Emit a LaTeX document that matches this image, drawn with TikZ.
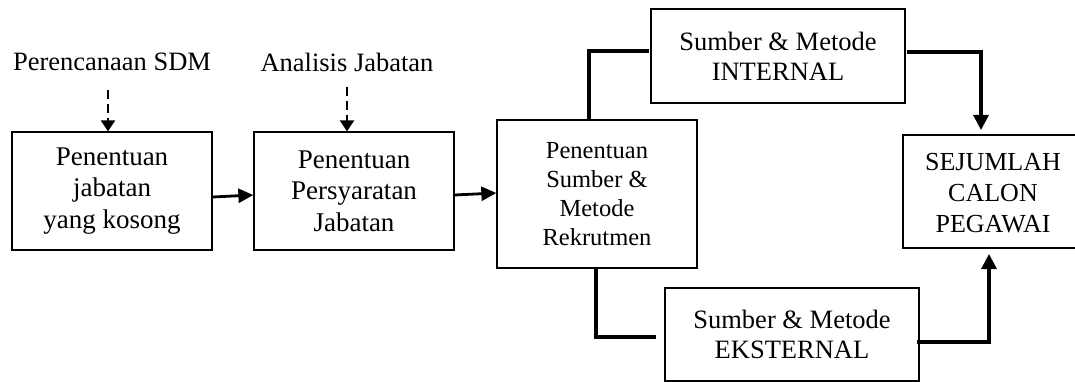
\documentclass[tikz,border=0pt]{standalone}
\usepackage{fontspec}
\setmainfont{Liberation Serif}
\usetikzlibrary{arrows.meta}
\tikzset{
  box/.style={draw, line width=1.3pt, align=center, inner sep=0pt, font=\fontsize{27}{31.7}\selectfont},
  lbl/.style={inner sep=0pt, font=\fontsize{26.5}{31.7}\selectfont},
  conn/.style={line width=3.2pt},
  arr/.style={line width=2.8pt, -{Triangle[length=15pt,width=14pt]}},
  darr/.style={line width=2.3pt, dash pattern=on 9pt off 5pt, -{Triangle[length=11pt,width=14pt]}}
}
\begin{document}
\begin{tikzpicture}[x=1pt,y=-1pt]
\useasboundingbox (0,0) rectangle (1075,382);
\clip (0,0) rectangle (1075,382);
\node[box, minimum width=200pt, minimum height=118pt] (b1) at (112,191) {Penentuan\\jabatan\\yang kosong};
\node[box, minimum width=200pt, minimum height=118pt] (b2) at (354,191) {Penentuan\\Persyaratan\\Jabatan};
\node[box, minimum width=200pt, minimum height=148pt, font=\fontsize{24.5}{29}\selectfont] (b3) at (597,194) {Penentuan\\Sumber \&\\Metode\\Rekrutmen};
\node[box, minimum width=254pt, minimum height=94pt, font=\fontsize{26.5}{30}\selectfont] (int) at (778,56) {Sumber \& Metode\\INTERNAL};
\node[box, minimum width=254pt, minimum height=93pt, font=\fontsize{26.5}{30}\selectfont] (eks) at (792,334.5) {Sumber \& Metode\\EKSTERNAL};
\node[draw, line width=1.3pt, minimum width=220pt, minimum height=113pt, inner sep=0pt] (sej) at (1013,191.5) {};
\node[align=center, inner sep=0pt, font=\fontsize{26}{31}\selectfont] (sejt) at (993,193) {SEJUMLAH\\CALON\\PEGAWAI};
\node[lbl] (p1) at (112,62) {Perencanaan SDM};
\node[lbl] (p2) at (347,62) {Analisis Jabatan};
\coordinate (d1) at (108,90);
\coordinate (d2) at (347,87);
\coordinate (sn) at (981,130);
\coordinate (ss) at (989,254);
\draw[darr] (d1) -- (d1 |- b1.north);
\draw[darr] (d2) -- (d2 |- b2.north);
\draw[arr] ([yshift=-6pt]b1.east) -- ([yshift=-4pt]b2.west);
\draw[arr] ([yshift=-4pt]b2.east) -- ([yshift=1pt]b3.west);
\draw[conn] ([xshift=-8pt]b3.north) |- ([xshift=-1pt,yshift=5pt]int.west);
\draw[conn, -{Triangle[length=15pt,width=15pt]}] ([xshift=1pt,yshift=4pt]int.east) -| (sn);
\draw[conn] ([xshift=-1pt]b3.south) |- ([xshift=-8pt,yshift=-2.5pt]eks.west);
\draw[conn, -{Triangle[length=15pt,width=15pt]}] ([xshift=-3pt,yshift=-7.5pt]eks.east) -| (ss);
\end{tikzpicture}
\end{document}
